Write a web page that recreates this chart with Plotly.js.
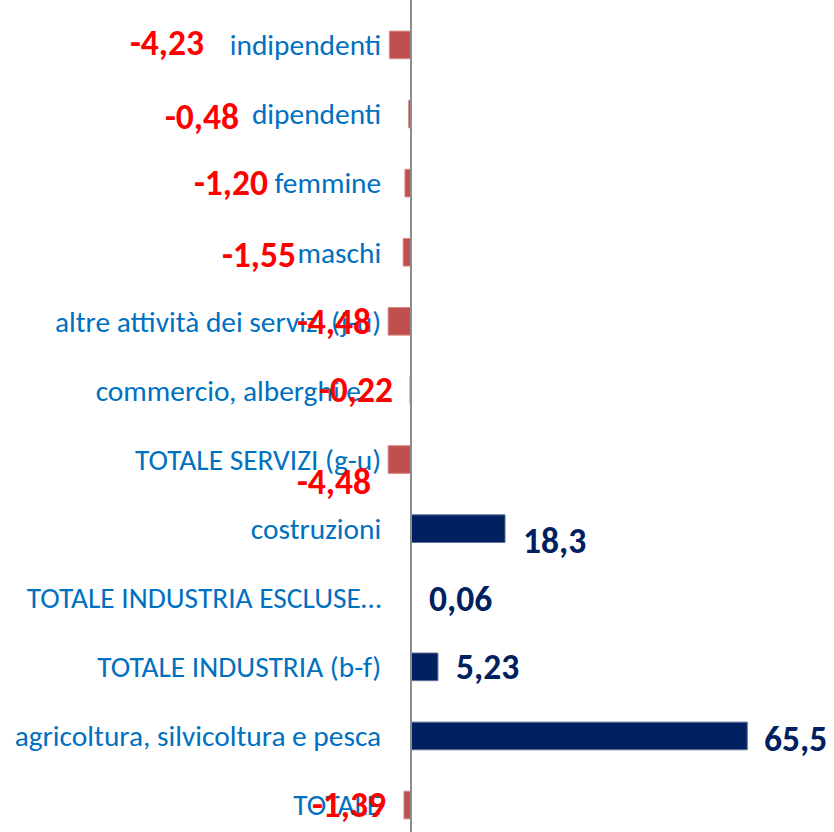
<!DOCTYPE html>
<html>
<head>
<meta charset="utf-8">
<script src="https://cdn.plot.ly/plotly-3.0.1.min.js"></script>
<style>html,body{margin:0;padding:0;background:#fff;}#chart{width:834px;height:832px;}</style>
</head>
<body>
<div id="chart"></div>
<script>
// Categories (bottom to top)
const categories = [
  "TOTALE",
  "agricoltura, silvicoltura e pesca",
  "TOTALE INDUSTRIA (b-f)",
  "TOTALE INDUSTRIA ESCLUSE…",
  "costruzioni",
  "TOTALE SERVIZI (g-u)",
  "commercio, alberghi e…",
  "altre attività dei servizi (j-u)",
  "maschi",
  "femmine",
  "dipendenti",
  "indipendenti"
];
// Values
const values = [-1.39, 65.5, 5.23, 0.06, 18.3, -4.48, -0.22, -4.48, -1.55, -1.20, -0.48, -4.23];
// Value label texts
const valueLabels = ["-1,39", "65,5", "5,23", "0,06", "18,3", "-4,48", "-0,22", "-4,48", "-1,55", "-1,20", "-0,48", "-4,23"];

// Label offsets (pixels) – style/position, kept apart from the data
const labelXShift = [-16, 15, 16, 16, 16, -15, -15, -15, -105, -135, -168, -183];
const labelYShift = [0, -3, 0, -1, -12, -22, 0, -1, -3, 0, -3, 2];

const NEG_BAR = "#C0504D", POS_BAR = "#002060";
const NEG_TXT = "#FF0000", POS_TXT = "#002060";
const FONT = "Carlito, Calibri, Lato, sans-serif";

const xRange = [-80.1, 82.4];
const yPos = (0 - xRange[0]) / (xRange[1] - xRange[0]);

const trace = {
  type: "bar",
  orientation: "h",
  y: categories,
  x: values,
  width: 0.4,
  marker: {
    color: values.map(v => v < 0 ? NEG_BAR : POS_BAR),
    line: {width: 1, color: values.map(v => v < 0 ? "#d98a88" : "#5a6f96")}
  },
  hoverinfo: "none"
};

const annotations = values.map((v, i) => ({
  x: v, y: categories[i], xref: "x", yref: "y",
  text: "<b>" + valueLabels[i] + "</b>",
  showarrow: false,
  xanchor: v < 0 ? "right" : "left",
  yanchor: "middle",
  xshift: labelXShift[i],
  yshift: labelYShift[i],
  font: {family: FONT, size: 35.5, color: v < 0 ? NEG_TXT : POS_TXT}
}));

const layout = {
  width: 834, height: 832,
  margin: {l: 0, r: 0, t: 0, b: 0, pad: 0},
  paper_bgcolor: "#fff", plot_bgcolor: "#fff",
  showlegend: false,
  xaxis: {range: xRange, visible: false, showgrid: false, zeroline: false, fixedrange: true},
  yaxis: {
    type: "category",
    categoryorder: "array", categoryarray: categories,
    range: [-0.39, 11.65],
    anchor: "free", position: yPos,
    showline: true, linecolor: "#8c8c8c", linewidth: 2,
    showgrid: false, zeroline: false,
    ticks: "", ticklabelstandoff: 23,
    tickfont: {family: FONT, size: 29.4, color: "#0070C0"},
    fixedrange: true
  },
  annotations: annotations
};

Plotly.newPlot("chart", [trace], layout, {displayModeBar: false, staticPlot: true});
</script>
</body>
</html>
